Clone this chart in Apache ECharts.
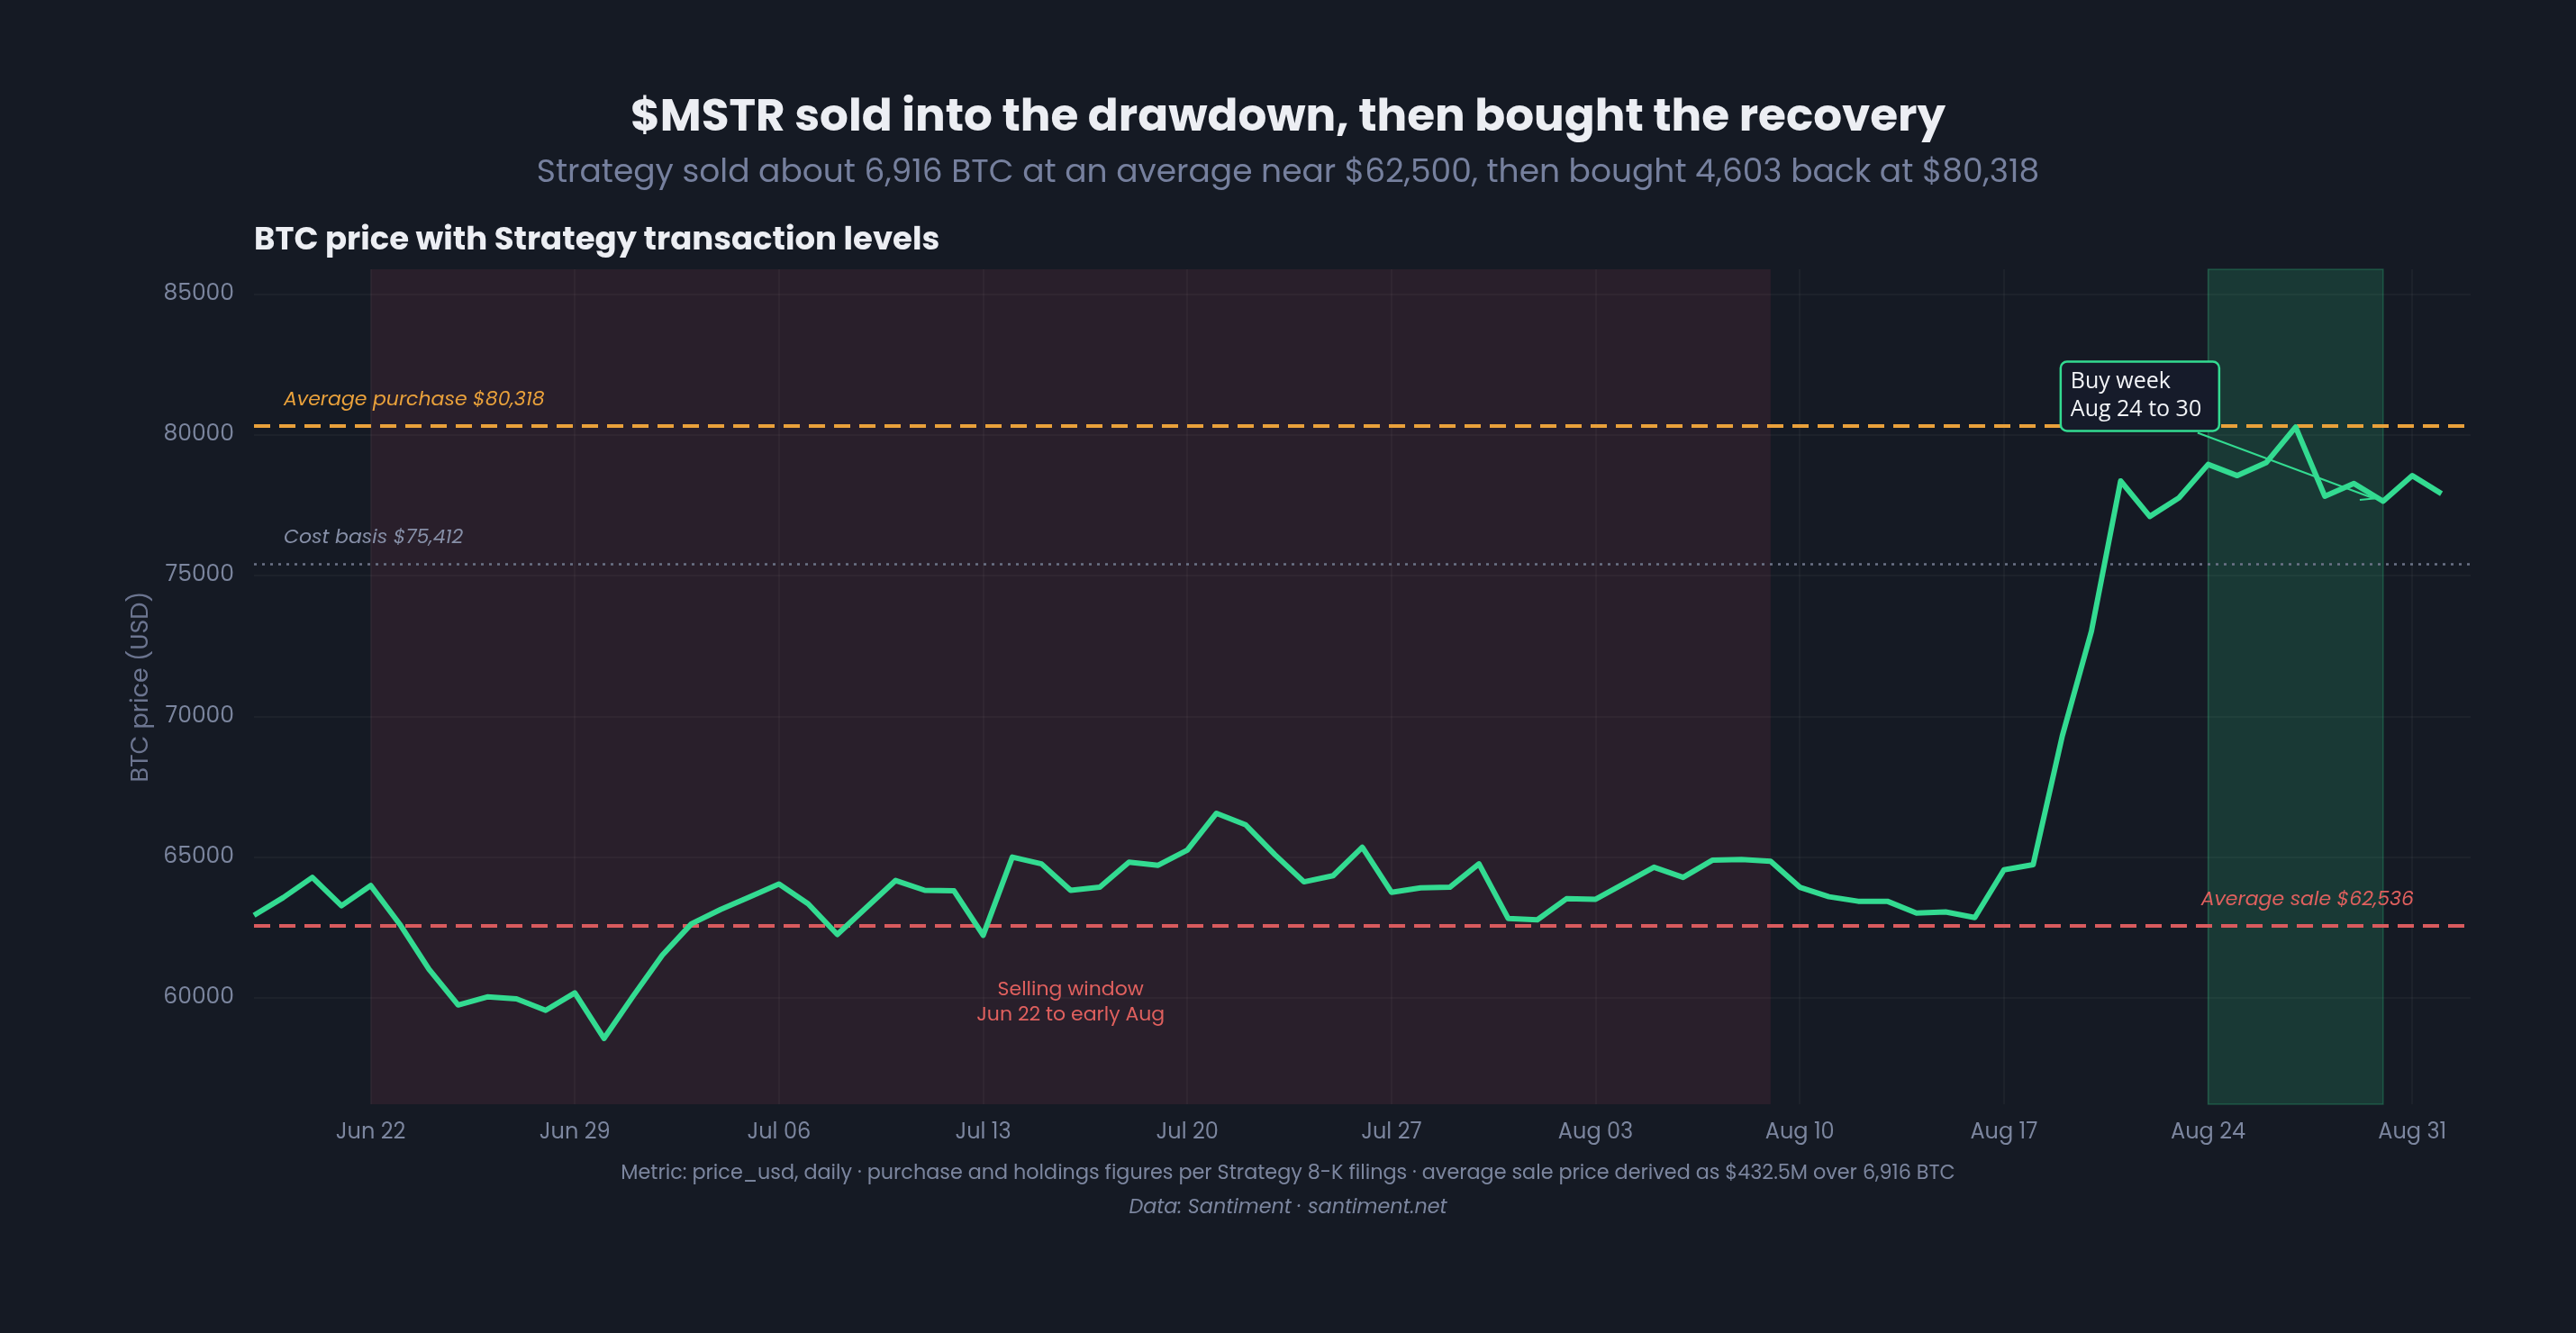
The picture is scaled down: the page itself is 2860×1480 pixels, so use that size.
<!DOCTYPE html>
<html lang="en">
<head>
  <meta charset="UTF-8" />
  <title>$MSTR sold into the drawdown, then bought the recovery</title>
  <script src="https://cdn.jsdelivr.net/npm/echarts@6/dist/echarts.min.js"></script>
  <style>
    html, body { margin: 0; padding: 0; background: #151a24; }
    #chart { width: 2860px; height: 1480px; }
  </style>
</head>
<body>
  <div id="chart"></div>

  <script>
    // daily BTC close, Jun 18 .. Sep 01 (Sep 02 is only there for the right padding)
    const dates = [
      'Jun 18', 'Jun 19', 'Jun 20', 'Jun 21', 'Jun 22', 'Jun 23', 'Jun 24', 'Jun 25', 'Jun 26', 'Jun 27',
      'Jun 28', 'Jun 29', 'Jun 30', 'Jul 01', 'Jul 02', 'Jul 03', 'Jul 04', 'Jul 05', 'Jul 06', 'Jul 07',
      'Jul 08', 'Jul 09', 'Jul 10', 'Jul 11', 'Jul 12', 'Jul 13', 'Jul 14', 'Jul 15', 'Jul 16', 'Jul 17',
      'Jul 18', 'Jul 19', 'Jul 20', 'Jul 21', 'Jul 22', 'Jul 23', 'Jul 24', 'Jul 25', 'Jul 26', 'Jul 27',
      'Jul 28', 'Jul 29', 'Jul 30', 'Jul 31', 'Aug 01', 'Aug 02', 'Aug 03', 'Aug 04', 'Aug 05', 'Aug 06',
      'Aug 07', 'Aug 08', 'Aug 09', 'Aug 10', 'Aug 11', 'Aug 12', 'Aug 13', 'Aug 14', 'Aug 15', 'Aug 16',
      'Aug 17', 'Aug 18', 'Aug 19', 'Aug 20', 'Aug 21', 'Aug 22', 'Aug 23', 'Aug 24', 'Aug 25', 'Aug 26',
      'Aug 27', 'Aug 28', 'Aug 29', 'Aug 30', 'Aug 31', 'Sep 01', 'Sep 02'
    ];
    const prices = [
      62920, 63550, 64270, 63260, 63980, 62600, 61000, 59730, 60020, 59950,
      59540, 60160, 58540, 60050, 61500, 62620, 63130, 63580, 64030, 63330,
      62240, 63200, 64160, 63810, 63790, 62210, 64990, 64750, 63810, 63920,
      64810, 64700, 65240, 66550, 66140, 65080, 64110, 64330, 65340, 63740,
      63900, 63920, 64750, 62810, 62760, 63510, 63490, 64060, 64630, 64270,
      64880, 64910, 64840, 63920, 63580, 63420, 63420, 63000, 63040, 62840,
      64540, 64720, 69300, 73030, 78370, 77110, 77770, 78960, 78560, 79030,
      80290, 77830, 78280, 77650, 78560, 77920
    ];
    const xTicks = ['Jun 22', 'Jun 29', 'Jul 06', 'Jul 13', 'Jul 20', 'Jul 27', 'Aug 03', 'Aug 10', 'Aug 17', 'Aug 24', 'Aug 31'];
    const yTicks = [60000, 65000, 70000, 75000, 80000, 85000];

    const avgPurchase = 80318;
    const costBasis = 75412;
    const avgSale = 62536;
    const sellWindow = ['Jun 22', 'Aug 09'];
    const buyWeek = ['Aug 24', 'Aug 30'];
    const buyArrowTarget = 'Aug 30';

    const FONT = 'Poppins, Inter, "Noto Sans", sans-serif';
    const MUTED = '#7c869f';
    const GREEN = '#33db91';
    const ORANGE = '#e9a13b';
    const RED = '#d95b5e';

    const chart = echarts.init(document.getElementById('chart'));

    const onTick = (idx, val) => xTicks.indexOf(val) !== -1;

    const footer = [
      {
        id: 'note', type: 'text',
        style: {
          text: 'Metric: price_usd, daily · purchase and holdings figures per Strategy 8-K filings · average sale price derived as $432.5M over 6,916 BTC',
          x: 1430, y: 1303, align: 'center', verticalAlign: 'middle',
          fontSize: 22.3, fill: '#7c869f', fontFamily: FONT
        }
      },
      {
        id: 'source', type: 'text',
        style: {
          text: 'Data: Santiment · santiment.net',
          x: 1430, y: 1341, align: 'center', verticalAlign: 'middle',
          fontSize: 22.3, fontStyle: 'italic', fill: '#7c869f', fontFamily: FONT
        }
      }
    ];

    chart.setOption({
      backgroundColor: '#151a24',
      animation: false,
      textStyle: { fontFamily: FONT },
      title: [
        {
          text: '$MSTR sold into the drawdown, then bought the recovery',
          left: 'center', top: 107, padding: 0,
          textStyle: { fontSize: 50, fontWeight: 700, color: '#eceef3', fontFamily: FONT }
        },
        {
          text: 'Strategy sold about 6,916 BTC at an average near $62,500, then bought 4,603 back at $80,318',
          left: 'center', top: 175, padding: 0,
          textStyle: { fontSize: 36, fontWeight: 400, color: '#76809e', fontFamily: FONT }
        },
        {
          text: 'BTC price with Strategy transaction levels',
          left: 282, top: 250, padding: 0,
          textStyle: { fontSize: 35.5, fontWeight: 700, color: '#eceef3', fontFamily: FONT }
        }
      ],
      grid: { left: 282, right: 117, top: 299, bottom: 254 },
      xAxis: {
        type: 'category',
        data: dates,
        boundaryGap: false,
        axisLine: { show: false },
        axisTick: { show: false },
        axisLabel: {
          interval: onTick,
          color: MUTED, fontSize: 24, margin: 20, fontFamily: FONT
        },
        splitLine: {
          show: true, interval: onTick,
          lineStyle: { color: 'rgba(255,255,255,0.05)', width: 1.5 }
        }
      },
      yAxis: {
        type: 'value',
        min: 56200,
        max: 85900,
        name: 'BTC price (USD)',
        nameLocation: 'middle',
        nameGap: 108,
        nameTextStyle: { color: '#6c7590', fontSize: 27, fontFamily: FONT },
        axisLine: { show: false },
        axisTick: { show: false, customValues: yTicks },
        axisLabel: {
          customValues: yTicks,
          formatter: (v) => String(v),
          color: MUTED, fontSize: 25, margin: 22, fontFamily: FONT
        },
        splitLine: { lineStyle: { color: 'rgba(255,255,255,0.05)', width: 1.5 } }
      },
      series: [
        {
          // background bands and reference levels
          type: 'line',
          data: [],
          silent: true,
          z: 1,
          markArea: {
            silent: true,
            data: [
              [
                {
                  xAxis: sellWindow[0],
                  itemStyle: { color: 'rgba(220,80,100,0.105)' },
                  label: {
                    show: true,
                    position: 'insideBottom',
                    distance: 85,
                    formatter: 'Selling window\nJun 22 to early Aug',
                    color: '#e0605e', fontSize: 22, lineHeight: 28, fontFamily: FONT
                  }
                },
                { xAxis: sellWindow[1] }
              ],
              [
                {
                  xAxis: buyWeek[0],
                  itemStyle: {
                    color: 'rgba(46,214,140,0.17)',
                    borderColor: 'rgba(46,214,140,0.25)', borderWidth: 1.5
                  },
                  label: { show: false }
                },
                { xAxis: buyWeek[1] }
              ]
            ]
          },
          markLine: {
            silent: true,
            symbol: 'none',
            data: [
              {
                yAxis: avgPurchase,
                lineStyle: { color: ORANGE, type: [18, 10], width: 4 },
                label: {
                  formatter: 'Average purchase $80,318',
                  position: 'insideStartTop', distance: [33, 18],
                  color: ORANGE, fontSize: 22, fontStyle: 'italic', fontFamily: FONT
                }
              },
              {
                yAxis: costBasis,
                lineStyle: { color: '#6b7387', type: [3, 6], width: 2.5 },
                label: {
                  formatter: 'Cost basis $75,412',
                  position: 'insideStartTop', distance: [33, 18],
                  color: '#868fa7', fontSize: 22, fontStyle: 'italic', fontFamily: FONT
                }
              },
              {
                yAxis: avgSale,
                lineStyle: { color: RED, type: [18, 10], width: 4 },
                label: {
                  formatter: 'Average sale $62,536',
                  position: 'insideEndTop', distance: [63, 18],
                  color: '#e0605e', fontSize: 22, fontStyle: 'italic', fontFamily: FONT
                }
              }
            ]
          }
        },
        {
          name: 'BTC price',
          type: 'line',
          data: prices,
          z: 5,
          showSymbol: false,
          symbol: 'none',
          lineStyle: { color: GREEN, width: 6, join: 'round' }
        }
      ],
      graphic: footer
    });

    // buy week callout, placed relative to the point it points at
    const p = chart.convertToPixel({ gridIndex: 0 }, [buyArrowTarget, prices[dates.indexOf(buyArrowTarget)]]);
    const head = [p[0] - 10, p[1] - 3];
    const tail = [head[0] - 196, head[1] - 73];
    const dx = head[0] - tail[0], dy = head[1] - tail[1];
    const len = Math.sqrt(dx * dx + dy * dy);
    const ux = dx / len, uy = dy / len;
    const headLen = 16, spread = 0.45;
    const wing = (s) => [
      head[0] - headLen * (ux * Math.cos(s) - uy * Math.sin(s)),
      head[1] - headLen * (uy * Math.cos(s) + ux * Math.sin(s))
    ];
    const box = { x: p[0] - 358, y: p[1] - 155, w: 176, h: 77 };

    chart.setOption({
      graphic: footer.concat([
        {
          id: 'arrowLine', type: 'line', z: 20,
          shape: { x1: tail[0], y1: tail[1], x2: head[0], y2: head[1] },
          style: { stroke: GREEN, lineWidth: 2 }
        },
        {
          id: 'arrowHead', type: 'polyline', z: 20,
          shape: { points: [wing(spread), head, wing(-spread)] },
          style: { stroke: GREEN, lineWidth: 2, fill: null }
        },
        {
          id: 'calloutBox', type: 'rect', z: 21,
          shape: { x: box.x, y: box.y, width: box.w, height: box.h, r: 7 },
          style: { fill: '#161b2a', stroke: GREEN, lineWidth: 2.5 }
        },
        {
          id: 'calloutText', type: 'text', z: 22,
          style: {
            text: 'Buy week\nAug 24 to 30',
            x: box.x + 11, y: box.y + 7,
            fontSize: 25, lineHeight: 31, fill: '#f2f4f7',
            fontFamily: '"Open Sans", sans-serif'
          }
        }
      ])
    });
  </script>
</body>
</html>
